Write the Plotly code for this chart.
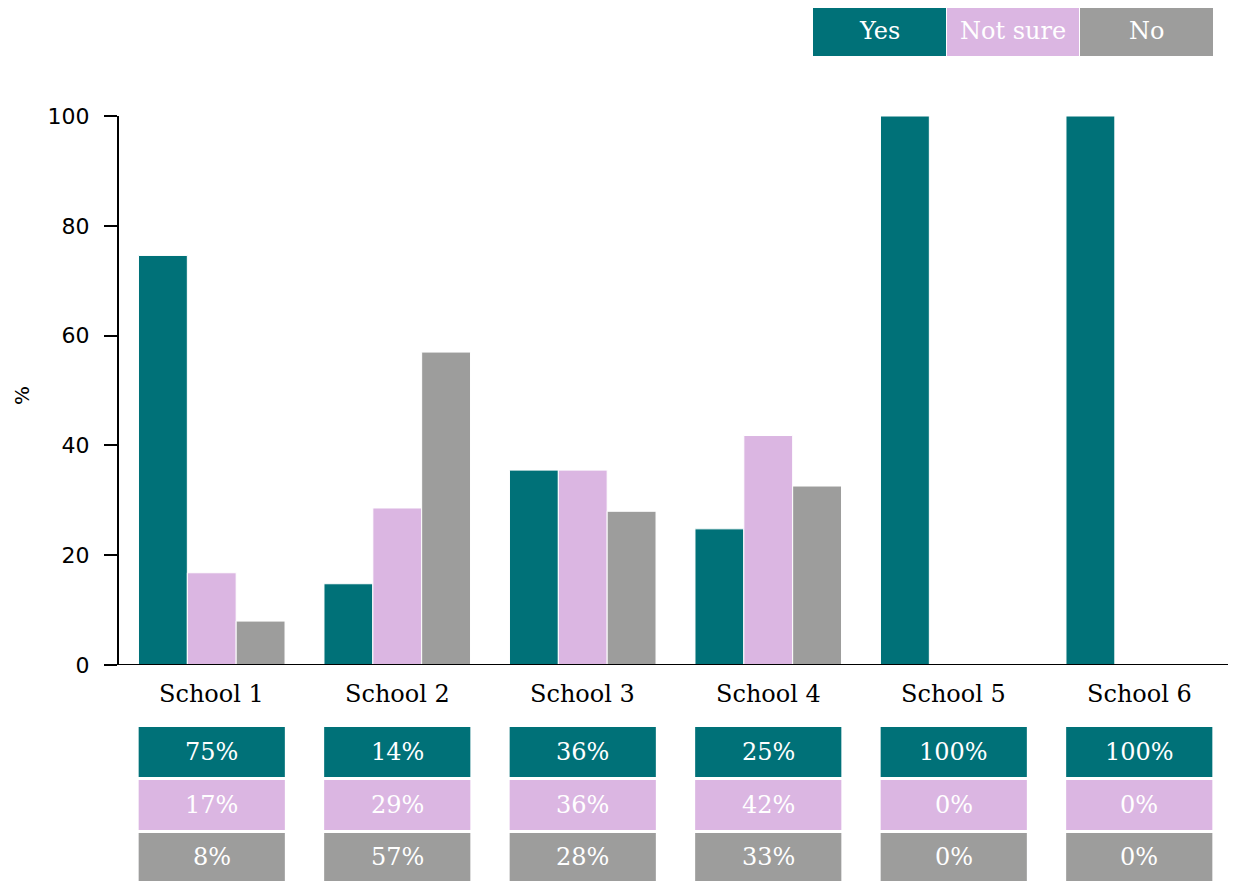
import plotly.graph_objects as go

schools = ["School 1", "School 2", "School 3", "School 4", "School 5", "School 6"]
series_names = ["Yes", "Not sure", "No"]
yes_vals = [74.6, 14.8, 35.5, 24.8, 100, 100]
notsure_vals = [16.8, 28.6, 35.5, 41.8, 0, 0]
no_vals = [8.0, 57.0, 28.0, 32.6, 0, 0]
yes_labels = ["75%", "14%", "36%", "25%", "100%", "100%"]
notsure_labels = ["17%", "29%", "36%", "42%", "0%", "0%"]
no_labels = ["8%", "57%", "28%", "33%", "0%", "0%"]
y_ticks = [0, 20, 40, 60, 80, 100]

colors = ["#007178", "#DBB6E2", "#9D9D9C"]
SLAB = "DejaVu Serif"
SANS = "DejaVu Sans"

OFF = 8  # page body margin
W, H = 1236 - OFF, 881 - OFF
ml, mr, mt, mb = 119 - OFF, 4, 116 - OFF, 216
ph = H - mt - mb
pw = W - ml - mr


def py(pix):
    return (H - mb - (pix - OFF)) / ph


def px(pix):
    return ((pix - OFF) - ml) / pw


fig = go.Figure()
for name, vals, c in zip(series_names, [yes_vals, notsure_vals, no_vals], colors):
    fig.add_trace(go.Bar(x=list(range(len(schools))), y=vals, name=name,
                         marker=dict(color=c, line=dict(color="white", width=1)),
                         showlegend=False, hoverinfo="x+y"))

shapes = []
annotations = []

shapes.append(dict(type="line", xref="paper", yref="y", x0=px(104), x1=px(1236),
                   y0=0, y1=0, line=dict(color="black", width=2)))

rows = [(yes_labels, colors[0], 727, 777), (notsure_labels, colors[1], 780, 830), (no_labels, colors[2], 833, 884)]
half = 0.394
for i, s in enumerate(schools):
    annotations.append(dict(x=i, y=py(694), xref="x", yref="paper", text=s, showarrow=False,
                            font=dict(family=SLAB, size=24, color="black"), xanchor="center", yanchor="middle"))
    for labels, c, top, bot in rows:
        shapes.append(dict(type="rect", xref="x", yref="paper", x0=i - half, x1=i + half,
                           y0=py(bot), y1=py(top), fillcolor=c, line=dict(width=0), layer="above"))
        annotations.append(dict(x=i, y=py((top + min(bot, 881)) / 2), xref="x", yref="paper", text=labels[i],
                                showarrow=False, font=dict(family=SLAB, size=24, color="white"),
                                xanchor="center", yanchor="middle"))

leg = [(813, 946), (947, 1079), (1080, 1213)]
for (x0, x1), name, c in zip(leg, series_names, colors):
    shapes.append(dict(type="rect", xref="paper", yref="paper", x0=px(x0), x1=px(x1),
                       y0=py(56), y1=py(6), fillcolor=c, line=dict(width=0)))
    annotations.append(dict(x=px((x0 + x1) / 2), y=py(31), xref="paper", yref="paper", text=name,
                            showarrow=False, font=dict(family=SLAB, size=24, color="white"),
                            xanchor="center", yanchor="middle"))

annotations.append(dict(x=px(22), y=py(395), xref="paper", yref="paper", text="%", textangle=-90,
                        showarrow=False, font=dict(family=SANS, size=20, color="black"),
                        xanchor="center", yanchor="middle"))

fig.update_layout(
    width=W, height=H,
    margin=dict(l=ml, r=mr, t=mt, b=mb, autoexpand=False),
    paper_bgcolor="white", plot_bgcolor="white",
    barmode="group", bargap=0.21, bargroupgap=0.0,
    shapes=shapes, annotations=annotations,
    xaxis=dict(range=[-0.5, 5.5], showticklabels=False, ticks="", showline=False,
               showgrid=False, zeroline=False, fixedrange=True),
    yaxis=dict(range=[0, 100], tickvals=y_ticks, ticks="outside", ticklen=13, tickwidth=2,
               tickcolor="black", showline=True, linecolor="black", linewidth=2,
               ticklabelstandoff=10,
               showgrid=False, zeroline=False, tickfont=dict(family=SANS, size=22, color="black")),
)

fig.write_html("out.html")
